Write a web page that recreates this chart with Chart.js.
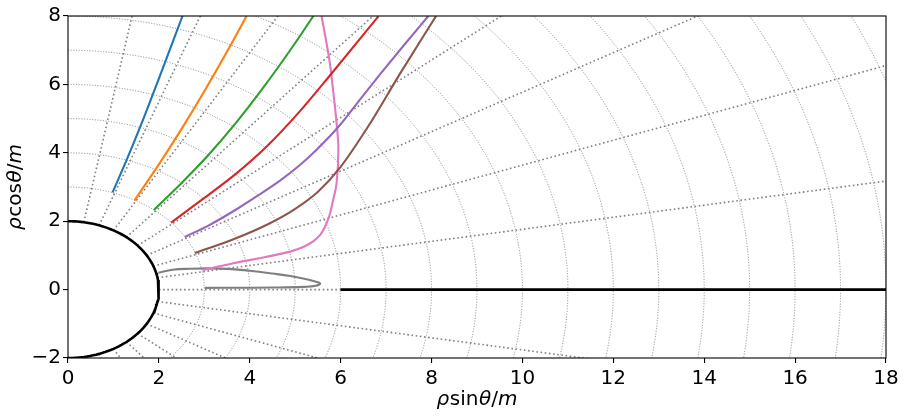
<!DOCTYPE html>
<html>
<head>
<meta charset="utf-8">
<script src="https://cdn.jsdelivr.net/npm/chart.js@4.4.1/dist/chart.umd.min.js"></script>
<style>
  html, body { margin: 0; padding: 0; background: #fff; }
  #wrap { width: 909px; height: 419px; }
</style>
</head>
<body>
<div id="wrap"><canvas id="chart" width="909" height="419"></canvas></div>
<script>
// tick labels
const xTicks = [0, 2, 4, 6, 8, 10, 12, 14, 16, 18]
const yTicks = [-2, 0, 2, 4, 6, 8]

// axis titles, split in pieces: text, font style, extra space after
const xTitleParts = [['ρ', 'italic', 0.5], ['sin', 'normal', 0.5], ['θ', 'italic', 0], ['/', 'normal', 0], ['m', 'italic', 0]]
const yTitleParts = [['ρ', 'italic', 0.5], ['cos', 'normal', 0.5], ['θ', 'italic', 0], ['/', 'normal', 0], ['m', 'italic', 0]]

// polar grid: dotted circles (radius in m) and radial lines (theta from the vertical axis, degrees)
const gridRadii = [3, 4, 5, 6, 7, 8, 9, 10, 11, 12, 13, 14, 15, 16, 17, 18, 19, 20]
const gridAngles = [10, 20, 30, 40, 50, 60, 70, 80, 90, 100, 110, 120, 130, 140, 150, 160, 170]
const horizonRadius = 2

// rays
const ray1X = [0.98, 1.30, 1.65, 2.00, 2.52]
const ray1Y = [2.84, 3.82, 4.96, 6.17, 8.0]
const ray2X = [1.46, 2.00, 2.50, 3.00, 3.50, 3.93]
const ray2Y = [2.60, 3.66, 4.70, 5.80, 6.96, 8.0]
const ray3X = [1.89, 2.50, 3.10, 3.70, 4.30, 4.90, 5.40]
const ray3Y = [2.33, 3.12, 3.95, 4.88, 5.91, 7.02, 8.0]
const ray4X = [2.27, 3.00, 3.70, 4.40, 5.10, 5.80, 6.83]
const ray4Y = [1.96, 2.68, 3.39, 4.22, 5.21, 6.32, 7.99]
const ray5X = [2.57, 3.10, 3.71, 4.20, 4.65, 5.11, 5.47, 5.99, 6.45, 6.87, 7.40, 7.93]
const ray5Y = [1.54, 1.88, 2.35, 2.77, 3.17, 3.65, 4.09, 4.82, 5.60, 6.30, 7.16, 8.0]
const ray6X = [2.79, 3.60, 4.40, 5.00, 5.50, 6.00, 6.60, 7.30, 8.10]
const ray6Y = [1.07, 1.45, 1.91, 2.36, 2.86, 3.59, 4.76, 6.30, 8.0]
const ray7X = [2.96, 3.64, 4.37, 4.89, 5.20, 5.40, 5.55, 5.66, 5.75, 5.83, 5.91, 5.95, 5.91, 5.84, 5.75, 5.58]
const ray7Y = [0.57, 0.77, 0.96, 1.11, 1.26, 1.42, 1.60, 1.85, 2.15, 2.60, 3.11, 4.09, 4.87, 5.75, 6.73, 8.0]
const ray8X = [1.99, 2.30, 2.68, 3.13, 3.60, 4.00, 4.50, 4.89, 5.20, 5.40, 5.55, 5.45, 5.20, 4.52, 3.80, 3.01]
const ray8Y = [0.49, 0.58, 0.61, 0.62, 0.60, 0.55, 0.47, 0.40, 0.32, 0.25, 0.18, 0.11, 0.08, 0.06, 0.055, 0.05]
const diskX = [6, 18]
const diskY = [0, 0]

const rayColors = ['#1f77b4', '#ff7f0e', '#2ca02c', '#d62728', '#9467bd', '#8c564b', '#e377c2', '#7f7f7f']
const rays = [
  [ray1X, ray1Y], [ray2X, ray2Y], [ray3X, ray3Y], [ray4X, ray4Y],
  [ray5X, ray5Y], [ray6X, ray6Y], [ray7X, ray7Y], [ray8X, ray8Y]
]

const toPoints = (xs, ys) => xs.map((x, i) => ({ x: x, y: ys[i] }))

// half circle of the horizon, x >= 0
const horizon = []
for (let d = 0; d <= 180; d += 2) {
  const t = d * Math.PI / 180
  horizon.push({ x: horizonRadius * Math.sin(t), y: horizonRadius * Math.cos(t) })
}

// rays 1-6 go steadily right, so monotone splines; the last two turn back
const datasets = rays.map((r, i) => ({
  data: toPoints(r[0], r[1]),
  borderColor: rayColors[i],
  borderWidth: 2.1,
  tension: 0.4,
  cubicInterpolationMode: i < 6 ? 'monotone' : 'default'
}))
datasets.push({ data: horizon, borderColor: '#000', borderWidth: 2.6, tension: 0 })
datasets.push({ data: toPoints(diskX, diskY), borderColor: '#000', borderWidth: 2.6, tension: 0 })

function drawMathTitle(ctx, parts, x, y, angle) {
  ctx.save()
  ctx.translate(x, y)
  ctx.rotate(angle)
  ctx.fillStyle = '#000'
  ctx.textAlign = 'left'
  ctx.textBaseline = 'alphabetic'
  const widths = parts.map(p => {
    ctx.font = p[1] + ' 20px "DejaVu Sans"'
    return ctx.measureText(p[0]).width + p[2]
  })
  let pos = -widths.reduce((a, b) => a + b, 0) / 2
  parts.forEach((p, i) => {
    ctx.font = p[1] + ' 20px "DejaVu Sans"'
    ctx.fillText(p[0], pos, 0)
    pos += widths[i]
  })
  ctx.restore()
}

const polarGrid = {
  id: 'polarGrid',
  beforeDatasetsDraw(chart) {
    const { ctx, chartArea: a, scales: { x, y } } = chart
    ctx.save()
    ctx.beginPath()
    ctx.rect(a.left, a.top, a.right - a.left, a.bottom - a.top)
    ctx.clip()
    const cx = x.getPixelForValue(0), cy = y.getPixelForValue(0)
    const kx = x.getPixelForValue(1) - cx, ky = cy - y.getPixelForValue(1)

    ctx.strokeStyle = 'rgba(120,120,120,0.9)'
    ctx.lineWidth = 1
    ctx.setLineDash([1, 1.7])
    gridRadii.forEach(r => {
      ctx.beginPath()
      ctx.ellipse(cx, cy, r * kx, r * ky, 0, -Math.PI / 2, Math.PI / 2)
      ctx.stroke()
    })

    ctx.strokeStyle = '#808080'
    ctx.lineWidth = 1.6
    ctx.setLineDash([1.6, 2.6])
    gridAngles.forEach(deg => {
      const t = deg * Math.PI / 180
      ctx.beginPath()
      ctx.moveTo(x.getPixelForValue(horizonRadius * Math.sin(t)), y.getPixelForValue(horizonRadius * Math.cos(t)))
      ctx.lineTo(x.getPixelForValue(25 * Math.sin(t)), y.getPixelForValue(25 * Math.cos(t)))
      ctx.stroke()
    })
    ctx.restore()
  },
  afterDraw(chart) {
    const { ctx, chartArea: a } = chart
    ctx.save()
    ctx.strokeStyle = '#000'
    ctx.lineWidth = 1.1
    ctx.strokeRect(a.left, a.top, a.right - a.left, a.bottom - a.top)
    ctx.restore()
    const midX = (a.left + a.right) / 2, midY = (a.top + a.bottom) / 2
    drawMathTitle(ctx, xTitleParts, midX, 405, 0)
    drawMathTitle(ctx, yTitleParts, 21, midY, -Math.PI / 2)
  }
}

Chart.defaults.font.family = 'DejaVu Sans'
Chart.defaults.color = '#000'

const minus = v => (v < 0 ? '\u2212' + Math.abs(v) : String(v))

new Chart(document.getElementById('chart'), {
  type: 'scatter',
  data: { datasets: datasets },
  options: {
    responsive: false,
    animation: false,
    showLine: true,
    elements: { point: { radius: 0 } },
    layout: { padding: { top: 16, right: 23, left: 0, bottom: 0 } },
    plugins: { legend: { display: false }, tooltip: { enabled: false } },
    scales: {
      x: {
        min: 0, max: 18,
        afterBuildTicks: s => { s.ticks = xTicks.map(v => ({ value: v })) },
        afterFit: s => { s.height = 61 },
        grid: { display: true, drawOnChartArea: false, drawTicks: true, tickLength: 5, color: '#000', lineWidth: 1.1 },
        border: { display: false },
        ticks: { font: { size: 20 }, padding: 4, maxRotation: 0, callback: v => minus(v) },
        title: { display: false }
      },
      y: {
        min: -2, max: 8,
        afterBuildTicks: s => { s.ticks = yTicks.map(v => ({ value: v })) },
        afterFit: s => { s.width = 68 },
        grid: { display: true, drawOnChartArea: false, drawTicks: true, tickLength: 5, color: '#000', lineWidth: 1.1 },
        border: { display: false },
        ticks: { font: { size: 20 }, padding: 2, callback: v => minus(v) },
        title: { display: false }
      }
    }
  },
  plugins: [polarGrid]
})
</script>
</body>
</html>
